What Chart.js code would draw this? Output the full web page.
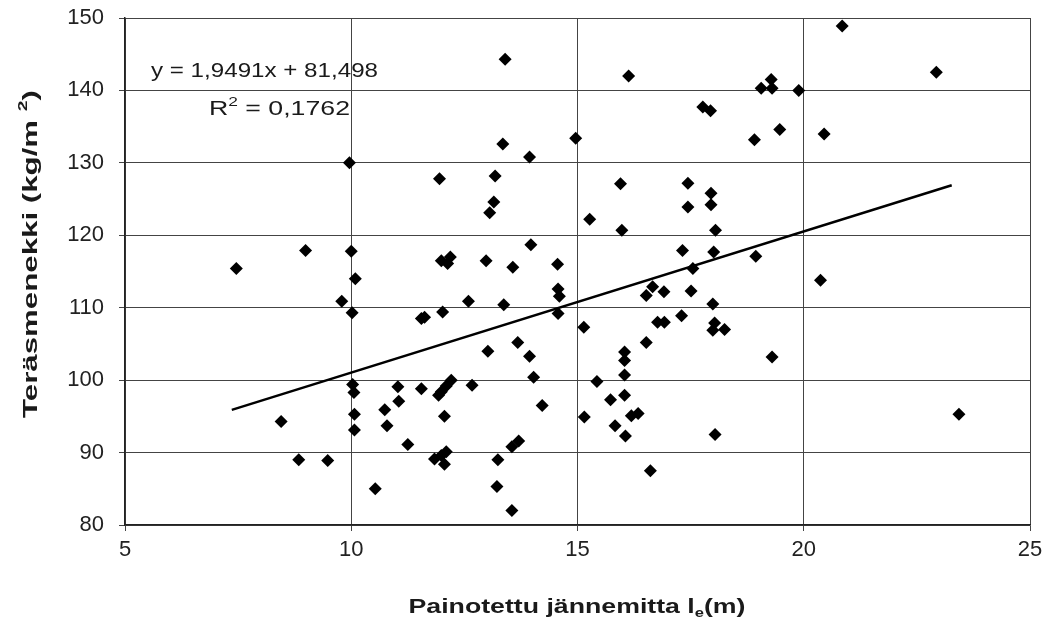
<!DOCTYPE html>
<html>
<head>
<meta charset="utf-8">
<script src="https://cdn.jsdelivr.net/npm/chart.js@4"></script>
<style>
html,body{margin:0;padding:0;background:#fff;}
#wrap{width:1053px;height:629px;}
</style>
</head>
<body>
<div id="wrap"><canvas id="c" width="1053" height="629"></canvas></div>
<script>
// Span (m) of each observation
const spanX = [
  7.46, 8.45, 8.84, 9.48, 8.99, 9.96, 10.0, 10.09, 9.79, 10.02,
  10.03, 10.06, 10.07, 10.07, 10.53, 10.74, 10.79, 11.03, 11.05, 11.25,
  11.55, 11.62, 11.55, 11.84, 11.99, 12.1, 12.06, 11.95, 12.02, 11.99,
  12.19, 12.13, 12.06, 11.93, 11.99, 12.1, 12.21, 12.59, 12.67, 12.98,
  13.02, 13.06, 13.15, 13.18, 13.24, 13.22, 13.35, 13.4, 13.37, 13.55,
  13.55, 13.7, 13.57, 13.68, 13.94, 13.97, 13.94, 14.03, 14.22, 14.56,
  14.57, 14.6, 14.57, 14.96, 15.14, 15.15, 15.27, 15.43, 15.73, 15.83,
  16.06, 16.04, 16.04, 16.04, 16.04, 15.95, 15.98, 16.13, 16.19, 16.34,
  16.52, 16.52, 16.66, 16.91, 16.61, 16.77, 16.92, 17.3, 17.32, 17.44,
  17.44, 17.55, 17.51, 17.77, 17.94, 17.95, 17.95, 18.05, 18.01, 17.99,
  18.03, 17.99, 18.25, 18.04, 18.91, 18.94, 19.06, 19.28, 19.3, 19.47,
  19.3, 19.89, 20.37, 20.45, 20.85, 22.93, 23.43
];
// Steel consumption (kg/m2) of each observation
const steelY = [
  115.4, 94.3, 89.0, 88.9, 117.9, 130.0, 117.8, 114.0, 110.9, 109.3,
  99.4, 98.3, 95.3, 93.1, 85.0, 95.9, 93.7, 99.1, 97.1, 91.1,
  108.5, 108.7, 98.8, 89.1, 89.6, 90.1, 88.4, 127.8, 109.4, 116.5,
  117.0, 116.1, 95.0, 97.9, 98.4, 99.2, 100.0, 110.9, 99.3, 116.5,
  104.0, 123.1, 124.6, 128.2, 89.0, 85.3, 132.6, 144.3, 110.4, 82.0,
  90.8, 91.6, 115.6, 105.2, 130.8, 118.7, 103.3, 100.4, 96.5, 116.0,
  112.6, 111.6, 109.2, 133.4, 107.3, 94.9, 122.2, 99.8, 97.3, 93.7,
  92.3, 103.9, 102.7, 100.7, 97.9, 127.1, 120.7, 142.0, 95.1, 95.4,
  105.2, 111.7, 112.9, 112.2, 87.5, 108.0, 108.0, 108.9, 117.9, 127.2,
  123.9, 115.4, 112.3, 137.7, 137.2, 125.8, 124.2, 120.7, 117.7, 110.5,
  107.9, 106.9, 107.0, 92.5, 133.2, 117.1, 140.3, 141.5, 140.3, 134.6,
  103.2, 140.0, 113.8, 134.0, 148.9, 142.5, 95.3
];
// Linear trend line end points (y = 1,9491x + 81,498)
const trendX = [7.36, 23.27];
const trendY = [95.9, 126.9];
const xTicks = [5, 10, 15, 20, 25];
const yTicks = [80, 90, 100, 110, 120, 130, 140, 150];
const eqText = 'y = 1,9491x + 81,498';
const r2Label = 'R';
const r2Value = ' = 0,1762';
const xTitle = 'Painotettu jännemitta l';
const xTitleSub = 'e';
const xTitleEnd = '(m)';
const yTitle = 'Teräsmenekki (kg/m ';
const yTitleSup = '2';
const yTitleEnd = ')';

const FONT = '"Liberation Sans", Arial, sans-serif';

const scatterData = spanX.map((x, i) => ({x: x, y: steelY[i]}));
const trendData = trendX.map((x, i) => ({x: x, y: trendY[i]}));

// draws a sequence of [text, font, dy] parts stretched to a target width
function drawParts(ctx, parts, x, y, targetW, align) {
  let widths = parts.map(p => { ctx.font = p[1]; return ctx.measureText(p[0]).width; });
  const natural = widths.reduce((a, b) => a + b, 0);
  const sx = targetW / natural;
  ctx.save();
  ctx.translate(x, y);
  ctx.scale(sx, 1);
  let cx = align === 'center' ? -natural / 2 : 0;
  parts.forEach((p, i) => {
    ctx.font = p[1];
    ctx.fillText(p[0], cx, p[2]);
    cx += widths[i];
  });
  ctx.restore();
}

const textPlugin = {
  id: 'texts',
  afterDraw(chart) {
    const ctx = chart.ctx;
    const ca = chart.chartArea;
    ctx.save();
    ctx.fillStyle = '#1a1a1a';
    ctx.textBaseline = 'alphabetic';
    ctx.textAlign = 'left';
    // equation
    drawParts(ctx, [[eqText, '20px ' + FONT, 0]], ca.left + 26, ca.top + 59, 227, 'left');
    // R^2
    drawParts(ctx, [
      [r2Label, '20px ' + FONT, 0],
      ['2', '13px ' + FONT, -9],
      [r2Value, '20px ' + FONT, 0]
    ], ca.left + 84, ca.top + 97, 141, 'left');

    // x title with subscript
    drawParts(ctx, [
      [xTitle, 'bold 21px ' + FONT, 0],
      [xTitleSub, 'bold 13px ' + FONT, 4],
      [xTitleEnd, 'bold 21px ' + FONT, 0]
    ], 577, 613, 337, 'center');

    // y title rotated with superscript
    ctx.save();
    ctx.translate(37, 254);
    ctx.rotate(-Math.PI / 2);
    drawParts(ctx, [
      [yTitle, 'bold 21px ' + FONT, 0],
      [yTitleSup, 'bold 13px ' + FONT, -10],
      [yTitleEnd, 'bold 21px ' + FONT, 0]
    ], 0, 0, 328, 'center');
    ctx.restore();
    ctx.restore();
  }
};

const bgPlugin = {
  id: 'bg',
  beforeDraw(chart) {
    const ctx = chart.ctx;
    ctx.save();
    ctx.fillStyle = '#fff';
    ctx.fillRect(0, 0, chart.width, chart.height);
    ctx.restore();
  }
};

new Chart(document.getElementById('c'), {
  type: 'scatter',
  data: {
    datasets: [
      {
        label: 'Havainnot',
        data: scatterData,
        pointStyle: 'rectRot',
        pointRadius: 6.5,
        pointHoverRadius: 6.5,
        backgroundColor: '#000',
        borderColor: '#000',
        borderWidth: 0,
        showLine: false,
        order: 2
      },
      {
        label: 'Trendi',
        data: trendData,
        showLine: true,
        borderColor: '#000',
        borderWidth: 2.5,
        pointRadius: 0,
        fill: false,
        order: 1
      }
    ]
  },
  options: {
    responsive: false,
    animation: false,
    events: [],
    layout: {padding: {left: 0, right: 23, top: 18, bottom: 0}},
    plugins: {
      legend: {display: false},
      tooltip: {enabled: false},
      title: {display: false}
    },
    scales: {
      x: {
        type: 'linear',
        min: 5, max: 25,
        afterBuildTicks: (s) => { s.ticks = xTicks.map(v => ({value: v})); },
        afterFit: (s) => { s.height = 104; s.paddingLeft = 0; s.paddingRight = 0; },
        grid: {color: '#444', lineWidth: 1, tickLength: 6, drawTicks: true},
        border: {color: '#222', width: 1.5},
        ticks: {color: '#222', font: {family: FONT, size: 22, lineHeight: 1}, padding: 8, maxRotation: 0}
      },
      y: {
        type: 'linear',
        min: 80, max: 150,
        afterBuildTicks: (s) => { s.ticks = yTicks.map(v => ({value: v})); },
        afterFit: (s) => { s.width = 125; s.paddingTop = 0; s.paddingBottom = 0; },
        grid: {color: '#444', lineWidth: 1, tickLength: 6, drawTicks: true},
        border: {color: '#222', width: 1.5},
        ticks: {color: '#222', font: {family: FONT, size: 22, lineHeight: 1}, padding: 15}
      }
    }
  },
  plugins: [bgPlugin, textPlugin]
});
</script>
</body>
</html>
